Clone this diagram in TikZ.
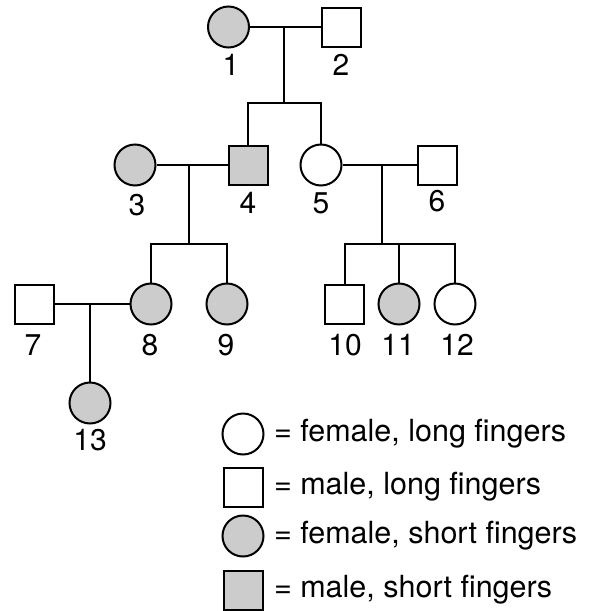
\documentclass[tikz,border=0pt]{standalone}
\usepackage{fontspec}
\setmainfont{TeX Gyre Heros}
\definecolor{shade}{HTML}{CCCCCC}
\begin{document}
\begin{tikzpicture}[x=1pt,y=-1pt,line width=2pt,
  fem/.style={circle,draw,minimum size=41pt,inner sep=0pt},
  mal/.style={rectangle,draw,minimum size=39pt,inner sep=0pt},
  aff/.style={fill=shade},
  num/.style={font=\fontsize{30}{30}\selectfont,inner sep=0pt},
  leg/.style={font=\fontsize{30.5}{30.5}\selectfont,anchor=west,inner sep=0pt}]
\useasboundingbox (0,0) rectangle (592,611);
% generation I
\node[fem,aff] (n1) at (228.5,27) {};
\node[mal] (n2) at (341.5,27) {};
% generation II
\node[fem,aff] (n3) at (135,165) {};
\node[mal,aff] (n4) at (248,165) {};
\node[fem] (n5) at (321,165) {};
\node[mal] (n6) at (437,165) {};
% generation III
\node[mal] (n7) at (34.5,304) {};
\node[fem,aff] (n8) at (151,304) {};
\node[fem,aff] (n9) at (227,304) {};
\node[mal] (n10) at (344.5,304) {};
\node[fem,aff] (n11) at (399,304) {};
\node[fem] (n12) at (455,304) {};
% generation IV
\node[fem,aff] (n13) at (90,403) {};
% labels
\node[num] (l1) at (231,65) {1};
\node[num] (l2) at (341,65) {2};
\node[num] (l3) at (137,205) {3};
\node[num] (l4) at (248,203) {4};
\node[num] (l5) at (321,203) {5};
\node[num] (l6) at (437,201) {6};
\node[num] (l7) at (33,345) {7};
\node[num] (l8) at (150,345) {8};
\node[num] (l9) at (226,345) {9};
\node[num] (l10) at (345,345) {10};
\node[num] (l11) at (398,345) {11};
\node[num] (l12) at (457,345) {12};
\node[num] (l13) at (90,440) {13};
% mating and descent points
\coordinate (m12) at (284,27);
\coordinate (s12) at (284,103);
\coordinate (m34) at (189,165);
\coordinate (s34) at (189,244);
\coordinate (m56) at (382,165);
\coordinate (s56) at (382,244);
\coordinate (m78) at (90,304);
% lines
\draw (n1) -- (n2);
\draw (m12) -- (s12);
\draw (n4.north) -- (n4.north |- s12) -- (n5.north |- s12) -- (n5.north);
\draw (n3) -- (n4);
\draw (m34) -- (s34);
\draw (n8.north) -- (n8.north |- s34) -- (n9.north |- s34) -- (n9.north);
\draw (n5) -- (n6);
\draw (m56) -- (s56);
\draw (n10.north) -- (n10.north |- s56) -- (n12.north |- s56) -- (n12.north);
\draw (n11.north) -- (n11.north |- s56);
\draw (n7) -- (n8);
\draw (m78) -- (n13.north);
% legend
\node[fem] (k1) at (243,434) {};
\node[mal] (k2) at (243.5,487) {};
\node[fem,aff] (k3) at (243,536) {};
\node[mal,aff] (k4) at (243.5,590) {};
\node[leg] (t1) at (273,434) {= female, long fingers};
\node[leg] (t2) at (273,487) {= male, long fingers};
\node[leg] (t3) at (273,536) {= female, short fingers};
\node[leg] (t4) at (273,590) {= male, short fingers};
\end{tikzpicture}
\end{document}
